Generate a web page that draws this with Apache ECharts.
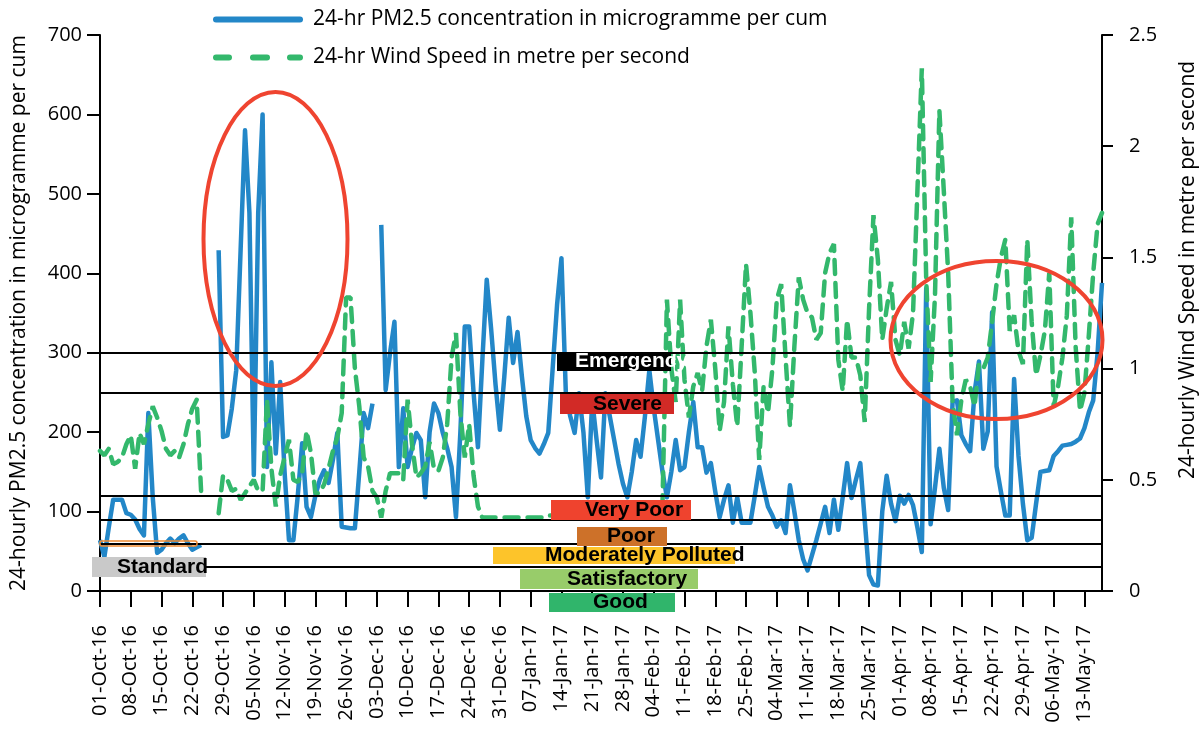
<!DOCTYPE html>
<html>
<head>
<meta charset="utf-8">
<script src="https://cdn.jsdelivr.net/npm/echarts@6/dist/echarts.min.js"></script>
<style>
    html, body { margin: 0; padding: 0; background: #fff; }
    #chart { width: 1201px; height: 729px; }
</style>
</head>
<body>
<div id="chart"></div>
<script>
    // x axis: one category per day, 01-Oct-16 .. 17-May-17
    var startDate = new Date(2016, 9, 1);
    var dayCount = 229;
    var monthNames = ['Jan', 'Feb', 'Mar', 'Apr', 'May', 'Jun', 'Jul', 'Aug', 'Sep', 'Oct', 'Nov', 'Dec'];
    var categories = [];
    for (var i = 0; i < dayCount; i++) {
        var d = new Date(startDate.getFullYear(), startDate.getMonth(), startDate.getDate() + i);
        var dd = ('0' + d.getDate()).slice(-2);
        categories.push(dd + '-' + monthNames[d.getMonth()] + '-' + String(d.getFullYear()).slice(-2));
    }

    // 24-hr PM2.5 (microgramme per cum)
    var pm25 = [
        64, 43, 80, 115, 115, 115, 98, 96, 90, 78,
        70, 224, 118, 48, 52, 60, 66, 60, 66, 70,
        60, 52, 55, 58, null, null, null, 429, 194, 196,
        230, 278, 430, 580, 476, 146, 476, 600, 156, 288,
        173, 263, 150, 64, 64, 120, 186, 106, 93, 120,
        140, 152, 136, 165, 199, 81, 80, 79, 79, 150,
        224, 205, 236, null, 461, 253, 300, 339, 156, 230,
        156, 180, 199, 190, 118, 200, 236, 224, 199, 180,
        156, 93, 200, 333, 333, 250, 181, 290, 392, 330,
        260, 203, 270, 344, 287, 326, 270, 220, 190, 180,
        173, 185, 199, 280, 360, 419, 249, 220, 199, 249,
        200, 118, 240, 190, 143, 249, 220, 190, 160, 135,
        118, 150, 190, 169, 220, 278, 230, 190, 150, 118,
        150, 190, 152, 156, 200, 238, 181, 181, 149, 161,
        125, 93, 115, 133, 86, 118, 86, 86, 86, 120,
        156, 130, 106, 95, 81, 89, 73, 133, 100, 64,
        40, 26, 45, 64, 85, 106, 73, 115, 77, 118,
        161, 117, 140, 161, 90, 20, 8, 7, 100, 145,
        110, 88, 120, 110, 121, 108, 80, 49, 381, 84,
        130, 179, 130, 102, 238, 240, 196, 185, 176, 250,
        289, 179, 201, 351, 157, 125, 95, 95, 267, 170,
        110, 64, 67, 110, 150, 151, 152, 170, 176, 183,
        184, 185, 188, 192, 205, 225, 240, 300, 388
    ];

    // 24-hr wind speed (metre per second)
    var windSpeed = [
        0.63, 0.61, 0.64, 0.57, 0.58, 0.60, 0.66, 0.70, 0.55, 0.71,
        0.66, 0.75, 0.83, 0.78, 0.72, 0.64, 0.61, 0.63, 0.60, 0.66,
        0.75, 0.82, 0.86, 0.45, null, null, null, 0.35, 0.52, 0.50,
        0.45, 0.46, 0.41, 0.44, 0.47, 0.50, 0.45, 0.45, 0.86, 0.55,
        0.38, 0.52, 0.60, 0.68, 0.50, 0.49, 0.53, 0.72, 0.62, 0.44,
        0.44, 0.48, 0.55, 0.63, 0.69, 0.80, 1.32, 1.32, 1.00, 0.83,
        0.60, 0.56, 0.45, 0.42, 0.33, 0.45, 0.53, 0.53, 0.53, 0.50,
        0.86, 0.66, 0.51, 0.53, 0.56, 0.67, 0.55, 0.54, 0.60, 0.75,
        1.05, 1.16, 0.80, 0.60, 0.75, 0.52, 0.38, 0.33, 0.33, 0.33,
        0.33, 0.33, 0.33, 0.33, 0.33, 0.33, 0.33, 0.33, 0.33, 0.33,
        0.33, 0.33, 0.34, 0.34, 0.34, 0.34, 0.34, 0.34, 0.34, 0.34,
        0.34, 0.34, 0.34, 0.34, 0.34, 0.34, 0.34, 0.34, 0.34, 0.34,
        0.34, 0.34, 0.34, 0.34, 0.34, 0.34, 0.34, 0.34, 0.40, 1.31,
        1.00, 0.85, 1.31, 0.95, 0.78, 0.92, 0.98, 0.90, 1.10, 1.22,
        1.00, 0.72, 0.85, 1.19, 0.93, 0.74, 1.10, 1.47, 1.25, 0.98,
        0.59, 0.92, 0.80, 1.00, 1.31, 1.38, 1.05, 0.74, 1.10, 1.41,
        1.31, 1.25, 1.23, 1.13, 1.16, 1.43, 1.52, 1.56, 1.04, 0.90,
        1.22, 1.05, 1.05, 0.97, 0.76, 1.27, 1.69, 1.49, 1.13, 1.27,
        1.39, 1.13, 1.06, 1.21, 1.09, 1.25, 1.80, 2.35, 1.40, 0.94,
        1.33, 2.16, 1.80, 1.43, 0.85, 0.70, 0.86, 0.95, 0.92, 0.83,
        1.02, 1.00, 1.05, 1.21, 1.38, 1.50, 1.58, 1.17, 1.24, 1.08,
        1.02, 1.58, 1.21, 0.97, 1.06, 1.17, 1.43, 0.83, 0.92, 1.05,
        1.24, 1.68, 1.10, 0.81, 0.89, 1.15, 1.43, 1.65, 1.70
    ];

    // category limits drawn as black lines (left axis units)
    var thresholds = [30, 60, 90, 120, 250, 300];

    // band labels: text, fill colour, text colour
    var bandNames = ['Emergency', 'Severe', 'Very Poor', 'Poor', 'Moderately Polluted', 'Satisfactory', 'Good', 'Standard'];
    var bandColors = ['#000000', '#d22a26', '#ef432e', '#cd7129', '#fdc42a', '#98cc6a', '#30b56b', '#c9c9c9'];
    var bandTextColors = ['#ffffff', '#000', '#000', '#000', '#000', '#000', '#000', '#000'];
    // box [x, y, w, h] and text left x, in pixels
    var bandBoxes = [
        [557, 352, 114, 19, 575],
        [560, 394, 114, 20, 593],
        [551, 500, 140, 20, 585],
        [577, 527, 90, 19, 607],
        [493, 547, 242, 17, 545],
        [520, 569, 178, 20, 567],
        [549, 593, 126, 19, 593],
        [92, 557, 114, 20, 117]
    ];

    var seriesNames = ['24-hr PM2.5 concentration in microgramme per cum', '24-hr Wind Speed in metre per second'];
    var blue = '#2387c8';
    var green = '#33b86c';
    var axisFont = 'Open Sans';

    var chart = echarts.init(document.getElementById('chart'));

    var graphics = [];
    bandNames.forEach(function (name, i) {
        var b = bandBoxes[i];
        graphics.push({
            type: 'rect', z: 100,
            shape: { x: b[0], y: b[1], width: b[2], height: b[3] },
            style: { fill: bandColors[i] }
        });
        graphics.push({
            type: 'text', z: 101,
            x: b[4], y: b[1] + b[3] / 2,
            style: {
                text: name, fill: bandTextColors[i],
                font: 'bold 21px "Liberation Sans", Arial, sans-serif',
                textVerticalAlign: 'middle', verticalAlign: 'middle'
            }
        });
    });
    // orange marker round the standard line
    graphics.push({
        type: 'rect', z: 99,
        shape: { x: 100, y: 541, width: 97, height: 5, r: 2 },
        style: { fill: 'none', stroke: '#f08a30', lineWidth: 1.5 }
    });
    // red ellipses
    graphics.push({
        type: 'ellipse', z: 102,
        shape: { cx: 275.5, cy: 239, rx: 72, ry: 147 },
        style: { fill: 'none', stroke: '#ef4430', lineWidth: 4 }
    });
    graphics.push({
        type: 'ellipse', z: 102,
        shape: { cx: 996.5, cy: 340, rx: 106, ry: 79 },
        style: { fill: 'none', stroke: '#ef4430', lineWidth: 4 }
    });
    // right axis title sits above the axis middle in the original
    graphics.push({
        type: 'text', z: 50,
        x: 1188, y: 270, rotation: Math.PI / 2,
        style: {
            text: '24-hourly Wind Speed in metre per second', fill: '#000',
            font: '21px "Open Sans"', textAlign: 'center',
            textVerticalAlign: 'middle', verticalAlign: 'middle'
        }
    });

    var option = {
        backgroundColor: '#fff',
        animation: false,
        legend: {
            orient: 'vertical',
            left: 208,
            top: 4,
            itemWidth: 90,
            itemHeight: 6,
            itemGap: 17,
            textStyle: { fontSize: 21, fontFamily: axisFont, color: '#000', padding: [0, 0, 0, 5] },
            data: [
                { name: seriesNames[0], icon: 'path://M3,0L87,0A3,3,0,0,1,87,6L3,6A3,3,0,0,1,3,0Z' },
                { name: seriesNames[1], icon: 'path://M3,0L16,0A3,3,0,0,1,16,6L3,6A3,3,0,0,1,3,0Z M40,0L54,0A3,3,0,0,1,54,6L40,6A3,3,0,0,1,40,0Z M77,0L87,0A3,3,0,0,1,87,6L77,6A3,3,0,0,1,77,0Z' }
            ]
        },
        grid: { left: 100, right: 99, top: 35, bottom: 138, containLabel: false },
        xAxis: {
            type: 'category',
            data: categories,
            boundaryGap: false,
            axisLine: { lineStyle: { color: '#000', width: 2 } },
            axisTick: { interval: 6, length: 16, lineStyle: { color: '#000', width: 2 } },
            axisLabel: {
                interval: 6, rotate: 90, margin: 34,
                fontSize: 20, fontFamily: axisFont, color: '#000'
            },
            splitLine: { show: false }
        },
        yAxis: [{
            type: 'value',
            min: 0, max: 700, interval: 100,
            name: '24-hourly PM2.5 concentration in microgramme per cum',
            nameLocation: 'middle', nameRotate: 90, nameGap: 70,
            nameTextStyle: { fontSize: 21, fontFamily: axisFont, color: '#000' },
            axisLine: { show: true, lineStyle: { color: '#000', width: 2 } },
            axisTick: { show: true, length: 13, lineStyle: { color: '#000', width: 2 } },
            axisLabel: { margin: 18, fontSize: 20, fontFamily: axisFont, color: '#000' },
            splitLine: { show: false }
        }, {
            type: 'value',
            min: 0, max: 2.5, interval: 0.5,
            axisLine: { show: true, lineStyle: { color: '#000', width: 2 } },
            axisTick: { show: true, length: 11, lineStyle: { color: '#000', width: 2 } },
            axisLabel: { margin: 27, fontSize: 20, fontFamily: axisFont, color: '#000' },
            splitLine: { show: false }
        }],
        series: [{
            name: seriesNames[0],
            type: 'line',
            yAxisIndex: 0,
            data: pm25,
            symbol: 'none',
            connectNulls: false,
            itemStyle: { color: blue },
            lineStyle: { color: blue, width: 4.5, join: 'round' },
            markLine: {
                silent: true,
                symbol: 'none',
                label: { show: false },
                lineStyle: { color: '#000', width: 2, type: 'solid' },
                data: thresholds.map(function (v) { return { yAxis: v }; })
            }
        }, {
            name: seriesNames[1],
            type: 'line',
            yAxisIndex: 1,
            data: windSpeed,
            symbol: 'none',
            connectNulls: false,
            itemStyle: { color: green },
            lineStyle: { color: green, width: 4.5, type: [14, 9], cap: 'round' }
        }],
        graphic: graphics
    };

    chart.setOption(option);
</script>
</body>
</html>
